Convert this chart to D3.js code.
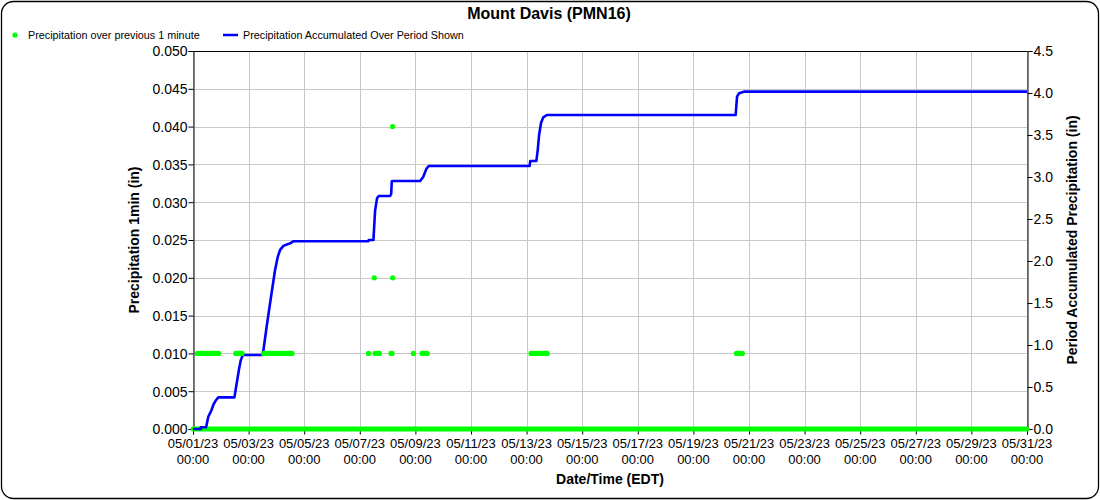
<!DOCTYPE html>
<html>
<head>
<meta charset="utf-8">
<script src="https://cdn.jsdelivr.net/npm/d3@7/dist/d3.min.js"></script>
<style>
  html, body { margin: 0; padding: 0; background: #fff; }
  svg { display: block; font-family: "Liberation Sans", Arial, sans-serif; }
</style>
</head>
<body>
<svg id="chart" width="1100" height="500"></svg>
<script>
// ---------- data ----------
const chartTitle = "Mount Davis (PMN16)";
const seriesNames = ["Precipitation over previous 1 minute", "Precipitation Accumulated Over Period Shown"];
const xRange = ["05/01/23 00:00", "05/31/23 00:00"];
const xTickDates = ["05/01/23","05/03/23","05/05/23","05/07/23","05/09/23","05/11/23","05/13/23","05/15/23",
                    "05/17/23","05/19/23","05/21/23","05/23/23","05/25/23","05/27/23","05/29/23","05/31/23"];
const leftTicks = [0, 0.005, 0.010, 0.015, 0.020, 0.025, 0.030, 0.035, 0.040, 0.045, 0.050];
const rightTicks = [0, 0.5, 1.0, 1.5, 2.0, 2.5, 3.0, 3.5, 4.0, 4.5];

// 1-minute precipitation: all other minutes of the period are 0.000
const zeroPeriod = ["05/01/23 00:00", "05/31/23 00:00"];
const oneMinTimes = [
  "05/01/23 03:50","05/01/23 05:02","05/01/23 06:14","05/01/23 07:26","05/01/23 10:05","05/01/23 11:17",
  "05/01/23 12:29","05/01/23 13:41","05/01/23 14:53","05/01/23 16:05","05/01/23 17:17","05/01/23 18:29",
  "05/01/23 19:41","05/01/23 20:53","05/01/23 22:05",
  "05/02/23 12:58","05/02/23 14:10","05/02/23 15:22","05/02/23 16:48","05/02/23 18:14",
  "05/03/23 12:58","05/03/23 14:24","05/03/23 15:50","05/03/23 17:17","05/03/23 18:43","05/03/23 20:10",
  "05/03/23 21:36","05/03/23 23:02","05/04/23 00:29","05/04/23 01:55","05/04/23 03:22","05/04/23 04:48",
  "05/04/23 06:14","05/04/23 07:41","05/04/23 09:07","05/04/23 10:34","05/04/23 12:00","05/04/23 13:26",
  "05/07/23 07:26","05/07/23 12:29","05/07/23 13:12","05/07/23 14:24","05/07/23 15:36","05/07/23 16:48",
  "05/08/23 02:53","05/08/23 03:50","05/08/23 04:19","05/08/23 04:20","05/08/23 22:19",
  "05/09/23 05:46","05/09/23 07:12","05/09/23 08:38","05/09/23 10:05",
  "05/13/23 03:50","05/13/23 05:02","05/13/23 06:14","05/13/23 07:26","05/13/23 08:38","05/13/23 09:50",
  "05/13/23 11:02","05/13/23 12:14","05/13/23 13:26","05/13/23 14:38","05/13/23 15:50","05/13/23 16:48",
  "05/13/23 17:46",
  "05/20/23 13:12","05/20/23 14:24","05/20/23 15:36","05/20/23 16:48","05/20/23 18:14"
];
const oneMinValues = [
  0.01,0.01,0.01,0.01,0.01,0.01,
  0.01,0.01,0.01,0.01,0.01,0.01,
  0.01,0.01,0.01,
  0.01,0.01,0.01,0.01,0.01,
  0.01,0.01,0.01,0.01,0.01,0.01,
  0.01,0.01,0.01,0.01,0.01,0.01,
  0.01,0.01,0.01,0.01,0.01,0.01,
  0.01,0.02,0.01,0.01,0.01,0.01,
  0.01,0.01,0.04,0.02,0.01,
  0.01,0.01,0.01,0.01,
  0.01,0.01,0.01,0.01,0.01,0.01,
  0.01,0.01,0.01,0.01,0.01,0.01,
  0.01,
  0.01,0.01,0.01,0.01,0.01
];

// accumulated precipitation over the period (in)
const accumTimes = [
  "05/01/23 00:00","05/01/23 06:43","05/01/23 06:44","05/01/23 11:17","05/01/23 13:12","05/01/23 15:50",
  "05/01/23 17:31","05/01/23 19:41","05/01/23 21:50","05/02/23 11:46","05/02/23 13:12","05/02/23 15:50",
  "05/02/23 17:17","05/02/23 18:58","05/03/23 12:14","05/03/23 15:36","05/03/23 19:12","05/03/23 22:48",
  "05/04/23 01:12","05/04/23 03:07","05/04/23 06:00","05/04/23 09:36","05/04/23 12:00","05/04/23 14:38",
  "05/07/23 07:26","05/07/23 07:40","05/07/23 11:46","05/07/23 13:12","05/07/23 14:53","05/07/23 16:19",
  "05/08/23 02:10","05/08/23 03:07","05/08/23 03:36","05/08/23 04:05","05/08/23 04:19","05/09/23 04:05",
  "05/09/23 06:43","05/09/23 09:36","05/09/23 11:31","05/13/23 02:38","05/13/23 03:07","05/13/23 08:24",
  "05/13/23 09:36","05/13/23 10:48","05/13/23 12:29","05/13/23 14:24","05/13/23 17:31","05/20/23 12:29",
  "05/20/23 13:41","05/20/23 15:22","05/20/23 19:41","05/31/23 00:00"
];
const accumValues = [
  0, 0, 0.02, 0.02, 0.146, 0.22,
  0.286, 0.34, 0.377, 0.377, 0.50, 0.72,
  0.82, 0.881, 0.881, 1.22, 1.56, 1.89,
  2.05, 2.13, 2.18, 2.20, 2.21, 2.235,
  2.235, 2.25, 2.25, 2.60, 2.746, 2.774,
  2.774, 2.80, 2.95, 2.952, 2.952, 2.952,
  3.00, 3.10, 3.131, 3.131, 3.19, 3.19,
  3.32, 3.50, 3.646, 3.71, 3.738, 3.738,
  3.956, 3.996, 4.016, 4.016
];

// ---------- chart ----------
const parse = d3.timeParse("%m/%d/%y %H:%M");
const parseDay = d3.timeParse("%m/%d/%y");
const svg = d3.select("#chart");
const W = 1100, H = 500;
const m = { left: 193, right: 1027, top: 51, bottom: 429 };

const x = d3.scaleTime().domain(xRange.map(parse)).range([m.left, m.right]);
const yL = d3.scaleLinear().domain([0, 0.05]).range([m.bottom, m.top]);
const yR = d3.scaleLinear().domain([0, 4.5]).range([m.bottom, m.top]);

// outer rounded frame
svg.append("rect").attr("x", 1.5).attr("y", 1.5).attr("width", W - 3).attr("height", H - 3)
  .attr("rx", 12).attr("ry", 12).attr("fill", "#fff").attr("stroke", "#000").attr("stroke-width", 1.3);

// title
svg.append("text").attr("x", 549).attr("y", 19).attr("text-anchor", "middle")
  .attr("font-size", 16).attr("font-weight", "bold").text(chartTitle);

// legend
const lg = svg.append("g").attr("font-size", 10.8);
lg.append("circle").attr("cx", 15).attr("cy", 35).attr("r", 2.6).attr("fill", "#00ff00");
lg.append("text").attr("x", 28).attr("y", 38.8).text(seriesNames[0]);
lg.append("line").attr("x1", 223).attr("x2", 238).attr("y1", 35).attr("y2", 35)
  .attr("stroke", "#0000ff").attr("stroke-width", 2.5);
lg.append("text").attr("x", 243).attr("y", 38.8).text(seriesNames[1]);

// grid
const xTicks = xTickDates.map(parseDay);
const grid = svg.append("g").attr("stroke", "#c8c8c8").attr("stroke-width", 1);
grid.selectAll(".vg").data(xTicks).join("line")
  .attr("x1", d => Math.round(x(d)) + 0.5).attr("x2", d => Math.round(x(d)) + 0.5)
  .attr("y1", m.top).attr("y2", m.bottom);
grid.selectAll(".hg").data(leftTicks).join("line")
  .attr("x1", m.left).attr("x2", m.right)
  .attr("y1", d => Math.round(yL(d)) + 0.5).attr("y2", d => Math.round(yL(d)) + 0.5);

// top frame
svg.append("line").attr("x1", m.left).attr("x2", m.right).attr("y1", m.top + 0.5).attr("y2", m.top + 0.5)
  .attr("stroke", "#000");

// axes
const axL = svg.append("g").attr("transform", `translate(${m.left + 0.5},0)`)
  .call(d3.axisLeft(yL).tickValues(leftTicks).tickFormat(d3.format(".3f")).tickSizeOuter(0).tickSize(5));
const axR = svg.append("g").attr("transform", `translate(${m.right + 0.5},0)`)
  .call(d3.axisRight(yR).tickValues(rightTicks).tickFormat(d3.format(".1f")).tickSizeOuter(0).tickSize(5));
const axB = svg.append("g").attr("transform", `translate(0,${m.bottom + 0.5})`)
  .call(d3.axisBottom(x).tickValues(xTicks).tickFormat(() => "").tickSizeOuter(0).tickSize(5));
[axL, axR, axB].forEach(a => {
  a.selectAll("path,line").attr("stroke", "#000");
  a.selectAll("text").attr("font-size", 14).attr("fill", "#000")
    .attr("font-family", "'Liberation Sans', Arial, sans-serif");
});
axL.selectAll("text").attr("dy", "0.35em").attr("x", -6);
axR.selectAll("text").attr("dy", "0.35em").attr("x", 6);

// bottom two-line labels
const fmtDate = d3.timeFormat("%m/%d/%y"), fmtTime = d3.timeFormat("%H:%M");
const xl = svg.append("g").attr("font-size", 13).attr("text-anchor", "middle");
xl.selectAll(".d").data(xTicks).join("text").attr("x", d => x(d)).attr("y", 447.5).text(fmtDate);
xl.selectAll(".t").data(xTicks).join("text").attr("x", d => x(d)).attr("y", 463.5).text(fmtTime);

// axis titles
svg.append("text").attr("x", (m.left + m.right) / 2).attr("y", 484).attr("text-anchor", "middle")
  .attr("font-size", 14).attr("font-weight", "bold").text("Date/Time (EDT)");
svg.append("text").attr("transform", `translate(139,${(m.top + m.bottom) / 2}) rotate(-90)`)
  .attr("text-anchor", "middle").attr("font-size", 14).attr("font-weight", "bold")
  .text("Precipitation 1min (in)");
svg.append("text").attr("transform", `translate(1077,${(m.top + m.bottom) / 2}) rotate(-90)`)
  .attr("text-anchor", "middle").attr("font-size", 14).attr("font-weight", "bold")
  .text("Period Accumulated Precipitation (in)");

// zero values (every minute with no precipitation) form a solid band at 0
svg.append("line")
  .attr("x1", x(parse(zeroPeriod[0]))).attr("x2", x(parse(zeroPeriod[1])))
  .attr("y1", yL(0)).attr("y2", yL(0))
  .attr("stroke", "#00ff00").attr("stroke-width", 5).attr("stroke-linecap", "round");

// accumulated line
const accum = accumTimes.map((t, i) => ({ t: parse(t), v: accumValues[i] }));
svg.append("path").datum(accum)
  .attr("fill", "none").attr("stroke", "#0000ff").attr("stroke-width", 2.6)
  .attr("stroke-linejoin", "round")
  .attr("d", d3.line().x(d => x(d.t)).y(d => yR(d.v)));

// 1-minute points
const pts = oneMinTimes.map((t, i) => ({ t: parse(t), v: oneMinValues[i] }));
svg.append("g").selectAll("circle").data(pts).join("circle")
  .attr("cx", d => x(d.t)).attr("cy", d => yL(d.v)).attr("r", 2.6).attr("fill", "#00ff00");
</script>
</body>
</html>
